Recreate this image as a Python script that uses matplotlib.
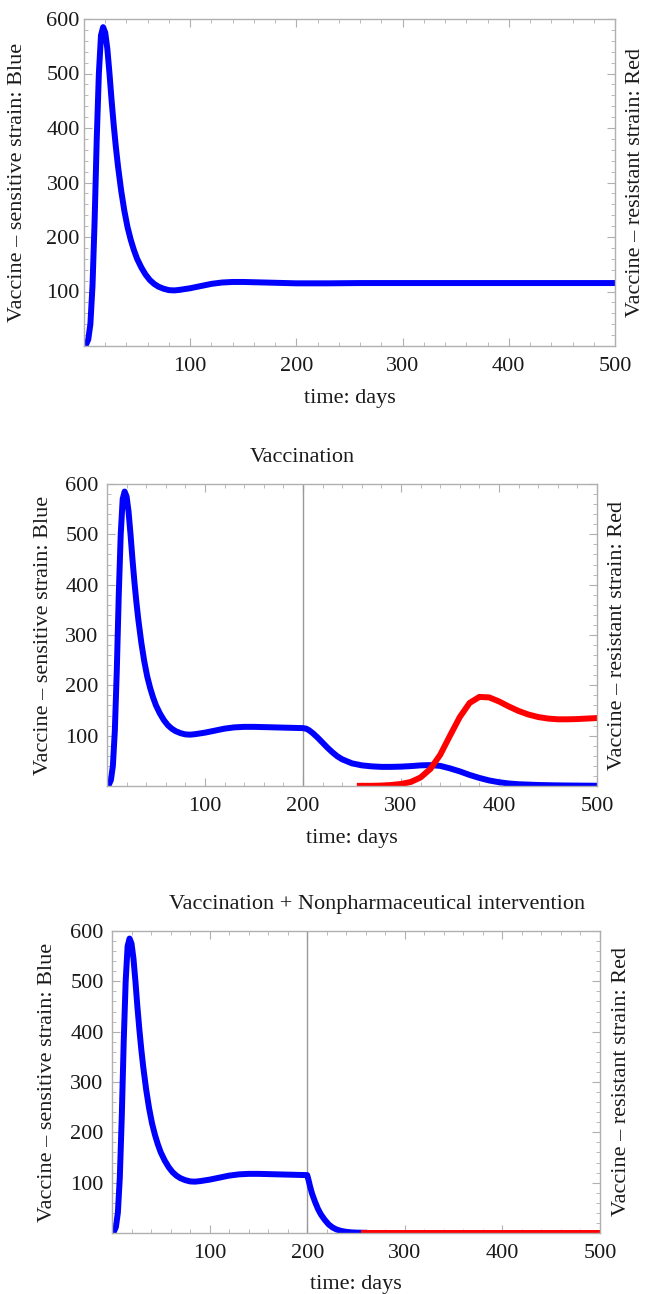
import matplotlib
matplotlib.use("Agg")
import matplotlib.pyplot as plt
from matplotlib.ticker import MultipleLocator, FixedLocator

plt.rcParams['font.family'] = ['Liberation Serif', 'DejaVu Serif']

# ---- data ----
t_early = [0, 2, 4, 6, 8, 10, 12, 14, 16, 18, 20, 22, 24, 26, 28, 30, 32, 35, 38, 41, 44, 47,
           50, 54, 58, 62, 66, 70, 75, 80, 85, 90, 100, 110, 120, 130, 140, 150, 160, 170,
           180, 190, 200]
v_early = [0, 3, 12, 40, 110, 230, 380, 500, 570, 585, 575, 545, 500, 450, 405, 365, 330, 285,
           248, 218, 195, 176, 160, 144, 131, 121, 114, 109, 105, 102.5, 102, 103, 106, 110,
           114, 116.5, 117.5, 117.5, 117, 116.5, 116, 115.5, 115]

# panel 1: no intervention
t_p1 = [210, 230, 260, 300, 350, 400, 450, 500]
v_p1 = [115, 115, 115.5, 115.5, 115.5, 115.5, 115.5, 115.5]

# panel 2: vaccination
t_p2_blue = [203, 206, 210, 215, 220, 225, 230, 235, 240, 250, 260, 270, 280, 290, 300, 310,
             320, 330, 340, 350, 360, 370, 380, 390, 400, 410, 420, 440, 460, 480, 500]
v_p2_blue = [114, 111, 105, 96, 86, 76, 67, 59, 53, 45, 41, 39, 38, 38, 38.5, 39.5, 41, 41.5,
             40, 35, 29, 22, 16, 11, 7.5, 5, 3.5, 2, 1.2, 0.8, 0.5]
t_p2_red = [258, 270, 280, 290, 300, 310, 320, 330, 340, 350, 360, 370, 380, 390, 400, 410,
            420, 430, 440, 450, 460, 470, 480, 490, 500]
v_p2_red = [0.3, 0.4, 0.8, 2, 4, 8, 17, 34, 62, 100, 137, 165, 177, 176, 168, 158, 149, 142,
            137, 134, 132.5, 132.5, 133, 134, 135]

# panel 3: vaccination + nonpharmaceutical intervention
t_p3_blue = [201, 203, 205, 208, 211, 214, 218, 222, 226, 230, 235, 240, 245, 250, 258]
v_p3_blue = [108, 92, 78, 62, 48, 37, 26, 17, 11, 7, 4, 2.3, 1.3, 0.8, 0.5]
t_p3_red = [258, 300, 400, 500]
v_p3_red = [0.5, 0.5, 0.5, 0.5]

titles = ["", "Vaccination", "Vaccination + Nonpharmaceutical intervention"]
xticks = [100, 200, 300, 400, 500]
yticks = [100, 200, 300, 400, 500, 600]
left_label = "Vaccine – sensitive strain: Blue"
right_label = "Vaccine – resistant strain: Red"
xlabel = "time: days"

W, H = 648, 1294
fig = plt.figure(figsize=(W / 100, H / 100), dpi=100)

# axes rects in pixels: left, top, right, bottom
rects = [(84, 19, 615, 346), (107, 484, 597, 786), (112, 931, 600, 1233)]
lab_x = [(18, 635), (44, 618), (48, 622)]
xlab_y = [398, 838, 1285]
ypads = [3, 6, 6]
title_pos = [None, (302, 457), (377, 905)]

spine_col = "#b0b0b0"
txt_col = "#1a1a1a"
FS = 16

def make_ax(i):
    l, t, r, b = rects[i]
    ax = fig.add_axes([l / W, 1 - b / H, (r - l) / W, (b - t) / H])
    ax.set_xlim(0, 500)
    ax.set_ylim(0, 600)
    ax.xaxis.set_major_locator(FixedLocator(xticks))
    ax.yaxis.set_major_locator(FixedLocator(yticks))
    ax.xaxis.set_minor_locator(MultipleLocator(20))
    ax.yaxis.set_minor_locator(MultipleLocator(20))
    ax.tick_params(which='both', direction='in', top=True, right=True, color=spine_col,
                   labelsize=FS, labelcolor=txt_col)
    ax.tick_params(which='major', length=6, width=0.8)
    ax.tick_params(which='minor', length=3, width=0.6)
    ax.tick_params(axis='x', pad=8)
    ax.tick_params(axis='y', pad=ypads[i])
    for s in ax.spines.values():
        s.set_color(spine_col)
        s.set_linewidth(1.0)
    yc = 1 - ((t + b) / 2) / H
    fig.text(lab_x[i][0] / W, yc, left_label, rotation=90,
             ha='center', va='center', fontsize=FS, color=txt_col)
    fig.text(lab_x[i][1] / W, yc, right_label, rotation=90,
             ha='center', va='center', fontsize=FS, color=txt_col)
    fig.text(((l + r) / 2) / W, 1 - xlab_y[i] / H, xlabel, ha='center', va='center',
             fontsize=FS, color=txt_col)
    if title_pos[i] is not None:
        fig.text(title_pos[i][0] / W, 1 - title_pos[i][1] / H, titles[i], ha='center',
                 va='center', fontsize=FS, color=txt_col)
    return ax

LW = 4.3
BLUE = (0, 0, 1)
RED = (1, 0, 0)

ax1 = make_ax(0)
ax1.plot(t_early + t_p1, v_early + v_p1, color=BLUE, lw=LW)

ax2 = make_ax(1)
ax2.axvline(200, color="#999999", lw=1.0)
ax2.plot(t_early + t_p2_blue, v_early + v_p2_blue, color=BLUE, lw=LW)
ax2.plot(t_p2_red, v_p2_red, color=RED, lw=LW)

ax3 = make_ax(2)
ax3.axvline(200, color="#999999", lw=1.0)
ax3.plot(t_early + t_p3_blue, v_early + v_p3_blue, color=BLUE, lw=LW)
ax3.plot(t_p3_red, v_p3_red, color=RED, lw=LW)

fig.savefig("out.png", dpi=100)
